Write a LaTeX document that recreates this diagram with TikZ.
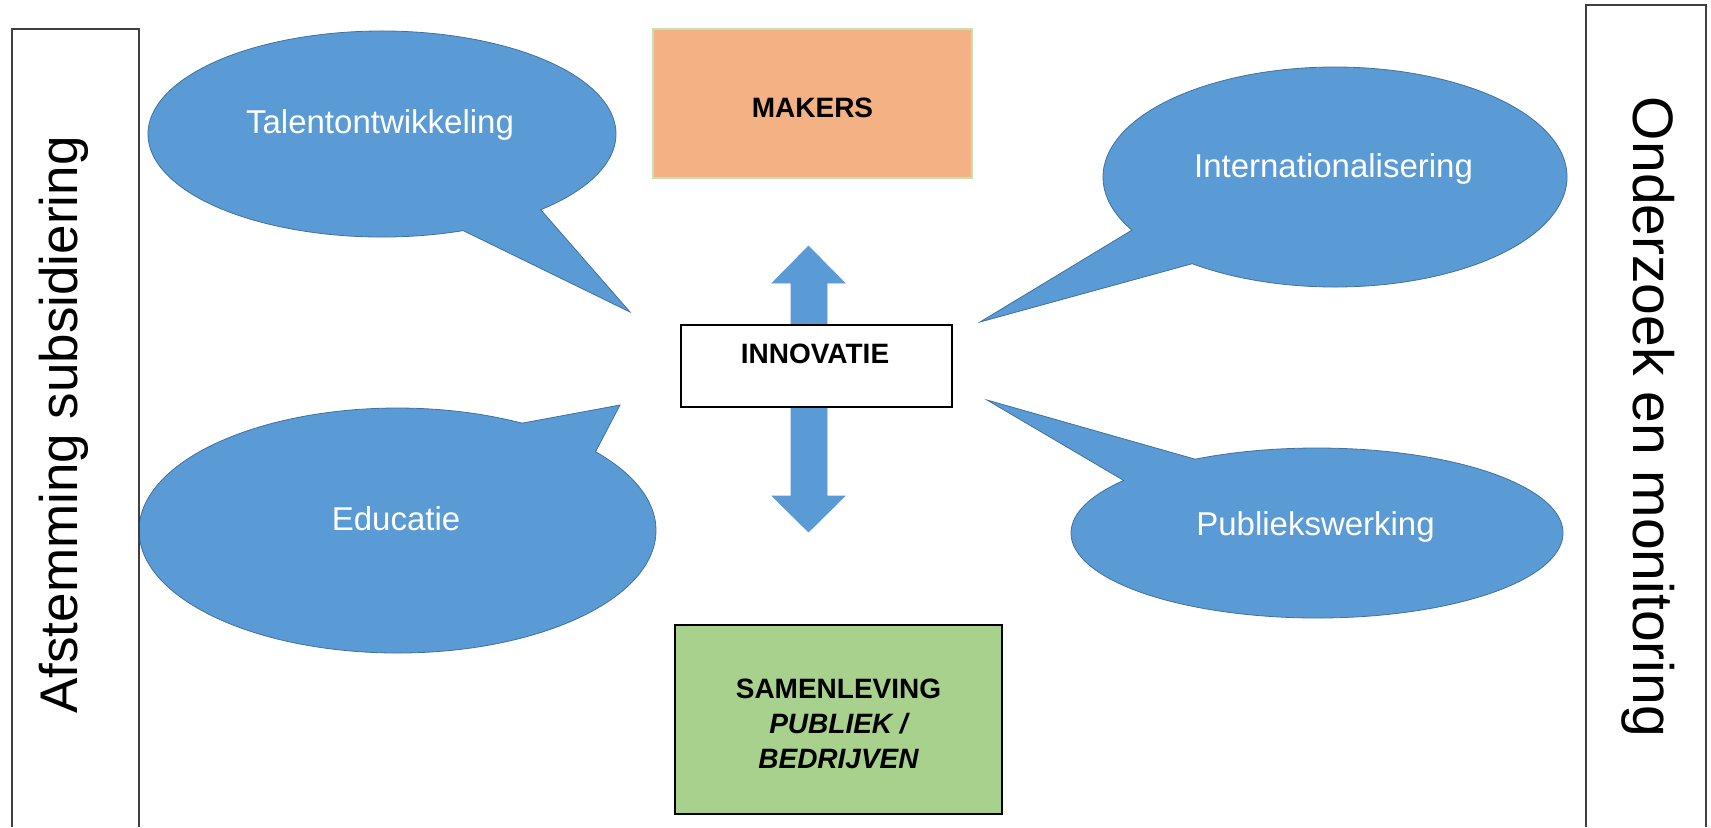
\documentclass[tikz,border=0pt]{standalone}
\usepackage{fontspec}
\setmainfont{Liberation Sans}
\definecolor{cblue}{HTML}{5B9BD5}
\definecolor{cblueline}{HTML}{41719C}
\definecolor{corange}{HTML}{F4B183}
\definecolor{cgreen}{HTML}{A9D18E}
\definecolor{cgreenline}{HTML}{C5E0B4}
\definecolor{cframe}{HTML}{404040}
\begin{document}
\begin{tikzpicture}[x=0.5pt,y=-0.5pt,
  bubble/.style={fill=cblue, draw=cblueline, line width=0.4pt, line join=miter},
  bubbletext/.style={text=white, font=\fontsize{16.5}{20}\selectfont, inner sep=0pt, anchor=base},
  blockarrow/.style={fill=cblue, draw=cblue, line width=0.3pt},
  boxlabel/.style={font=\fontsize{14}{17.5}\selectfont\bfseries, inner sep=0pt},
  sidebar/.style={draw=cframe, line width=0.9pt},
  sidetext/.style={inner sep=0pt},
  plainbox/.style={inner sep=0pt, outer sep=0pt},
]
\useasboundingbox (0,0) rectangle (1711,827);

% centres of the callout ellipses
\coordinate (talc) at (382,134);
\coordinate (educ) at (397.5,530.5);
\coordinate (intc) at (1335,177);
\coordinate (pubc) at (1317,533);
% tips of the callouts
\coordinate (taltip) at (630,312);
\coordinate (edutip) at (620,405);
\coordinate (inttip) at (980,322);
\coordinate (pubtip) at (987,400);

% callouts
\path[bubble] ([shift={(69.7:234 and 103)}]talc)
  arc[start angle=69.7, end angle=407.3, x radius=234, y radius=103] -- (taltip) -- cycle;
\path[bubble] ([shift={(-40:258.5 and 122.5)}]educ)
  arc[start angle=-40, end angle=298.8, x radius=258.5, y radius=122.5] -- (edutip) -- cycle;
\path[bubble] ([shift={(151.1:232 and 110)}]intc)
  arc[start angle=151.1, end angle=488, x radius=232, y radius=110] -- (inttip) -- cycle;
\path[bubble] ([shift={(240.3:246 and 85)}]pubc)
  arc[start angle=240.3, end angle=578.2, x radius=246, y radius=85] -- (pubtip) -- cycle;

% block arrows
\path[blockarrow] (791,345) -- (791,283) -- (772,283) -- (808.5,246) -- (845,283)
  -- (827,283) -- (827,345) -- cycle;
\path[blockarrow] (791,390) -- (791,496) -- (772,496) -- (808.5,532) -- (845,496)
  -- (827,496) -- (827,390) -- cycle;

% boxes
\node[plainbox, draw=cgreenline, fill=corange, line width=0.6pt,
  minimum width=159.5pt, minimum height=74.5pt] (makersbox) at (812.5,103.5) {};
\node[plainbox, draw=black, fill=white, line width=1.1pt,
  minimum width=135.5pt, minimum height=41pt] (innovbox) at (816.5,366) {};
\node[plainbox, draw=black, fill=cgreen, line width=0.9pt,
  minimum width=163.5pt, minimum height=94.5pt] (samenbox) at (838.5,719.5) {};

% side bars
\draw[sidebar] (12,827) -- (12,29) -- (139,29) -- (139,827);
\draw[sidebar] (1586,827) -- (1586,5) -- (1706,5) -- (1706,827);

% texts
\node[bubbletext] (tal) at (380,133) {Talentontwikkeling};
\node[bubbletext] (int) at (1333.5,177) {Internationalisering};
\node[bubbletext] (edu) at (396,530) {Educatie};
\node[bubbletext] (pub) at (1315.5,535) {Publiekswerking};

\node[boxlabel, anchor=base] (makers) at (812.5,117) {MAKERS};
\node[boxlabel, anchor=base] (innov) at (815,363) {INNOVATIE};
\node[boxlabel, align=center] (samen) at (838.5,723.4)
  {SAMENLEVING\\\itshape PUBLIEK /\\\itshape BEDRIJVEN};

\node[sidetext, rotate=90, font=\fontsize{26.5}{30}\selectfont] (afst) at (64,425)
  {Afstemming subsidiering};
\node[sidetext, rotate=-90, font=\fontsize{28.5}{32}\selectfont] (onder) at (1648,417)
  {Onderzoek en monitoring};
\end{tikzpicture}
\end{document}
